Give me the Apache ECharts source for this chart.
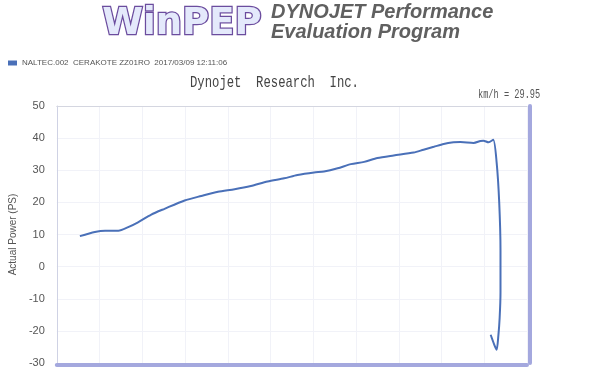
<!DOCTYPE html>
<html>
<head>
<meta charset="utf-8">
<script src="https://cdn.jsdelivr.net/npm/echarts@6/dist/echarts.min.js"></script>
<style>html,body{margin:0;padding:0;background:#fff;}#c{width:598px;height:370px;}</style>
</head>
<body>
<div id="c"></div>
<script>
// Run position along the x axis (plot units, 0..110)
var runX = [5.4, 8.9, 11.3, 14.4, 16.7, 19.0, 22.1, 25.2, 29.9, 33.8, 37.7, 41.6, 45.4, 49.3, 53.2, 56.3, 60.2, 62.5, 65.7, 68.8, 71.9, 75.0, 78.8, 83.5, 85.8, 88.2, 90.5, 92.8, 94.4, 97.5, 99.1, 99.8, 101.0, 102.1, 102.9, 103.5, 103.8, 103.8, 103.6, 103.3, 102.9, 102.4, 101.5];
// Actual Power (PS)
var powerPS = [9.5, 10.8, 11.2, 11.2, 12.3, 13.8, 16.2, 18.0, 20.6, 22.0, 23.3, 24.1, 25.1, 26.5, 27.5, 28.5, 29.3, 29.6, 30.6, 31.9, 32.6, 33.8, 34.6, 35.5, 36.4, 37.3, 38.2, 38.7, 38.8, 38.5, 39.1, 39.2, 38.7, 39.5, 32.4, 20.0, 5.0, -8.0, -16.0, -21.5, -25.9, -24.5, -21.2];
var yTicks = [-30, -20, -10, 0, 10, 20, 30, 40, 50];
var seriesName = 'NALTEC.002  CERAKOTE ZZ01RO  2017/03/09 12:11:06';
var speedText = 'km/h = 29.95';

var pts = runX.map(function (x, i) { return [x, powerPS[i]]; });
var chart = echarts.init(document.getElementById('c'));
chart.setOption({
  backgroundColor: '#ffffff',
  animation: false,
  legend: {
    left: 3, top: 54, itemWidth: 9, itemHeight: 5, itemGap: 4,
    icon: 'rect',
    textStyle: { fontFamily: 'Liberation Sans', fontSize: 8, color: '#555' },
    data: [seriesName]
  },
  grid: { left: 55, right: 71, top: 106, bottom: 7, containLabel: false },
  xAxis: [{
    type: 'value', min: 0, max: 110, interval: 10,
    axisLine: { show: true, onZero: false, lineStyle: { color: '#a4a8de', width: 4 } },
    offset: 2,
    axisTick: { show: false }, axisLabel: { show: false },
    splitLine: { show: true, lineStyle: { color: '#f1f2f8', width: 1 } }
  }, {
    type: 'value', position: 'top', min: 0, max: 110,
    axisLine: { show: true, onZero: false, lineStyle: { color: '#d4d6e0', width: 1 } },
    axisTick: { show: false }, axisLabel: { show: false }, splitLine: { show: false }
  }],
  yAxis: [{
    type: 'value', min: -30, max: 50, interval: 10,
    name: 'Actual Power (PS)', nameLocation: 'middle', nameRotate: 90, nameGap: 32,
    nameTextStyle: { fontFamily: 'Liberation Sans', fontSize: 10, color: '#555' },
    axisLine: { show: true, onZero: false, lineStyle: { color: '#cfd2e4', width: 1 } },
    axisTick: { show: false },
    axisLabel: { margin: 12, fontFamily: 'Liberation Sans', fontSize: 11, color: '#555',
      formatter: function (v) { return yTicks.indexOf(v) >= 0 ? String(v) : ''; } },
    splitLine: { show: true, lineStyle: { color: '#f1f2f8', width: 1 } }
  }, {
    type: 'value', position: 'right', min: -30, max: 50, offset: 3,
    axisLine: { show: true, onZero: false, lineStyle: { color: '#a4a8de', width: 4 } },
    axisTick: { show: false }, axisLabel: { show: false }, splitLine: { show: false }
  }],
  graphic: [
    { type: 'text', left: 101, top: 5, style: {
        text: 'WinPEP', font: 'bold 37px "DejaVu Sans"',
        fill: '#e4e9fb',
        stroke: '#6b4c9e', lineWidth: 2.5,
        shadowColor: '#f070c8', shadowBlur: 10 } },
    { type: 'text', left: 271, top: 2, style: {
        text: 'DYNOJET Performance', font: 'italic bold 20px "Liberation Sans"', fill: '#606060' } },
    { type: 'text', left: 271, top: 22, style: {
        text: 'Evaluation Program', font: 'italic bold 20px "Liberation Sans"', fill: '#606060' } },
    { type: 'text', x: 190, y: 74, scaleX: 0.72, style: {
        text: 'Dynojet  Research  Inc.', font: '17px "Liberation Mono"', fill: '#444' } },
    { type: 'text', x: 478, y: 89, scaleX: 0.72, style: {
        text: speedText, font: '12px "Liberation Mono"', fill: '#555' } }
  ],
  series: [{
    name: seriesName,
    type: 'line',
    data: pts,
    smooth: 0.25,
    showSymbol: false,
    itemStyle: { color: '#4a70b8' },
    lineStyle: { color: '#4a70b8', width: 2 }
  }]
});
</script>
</body>
</html>
